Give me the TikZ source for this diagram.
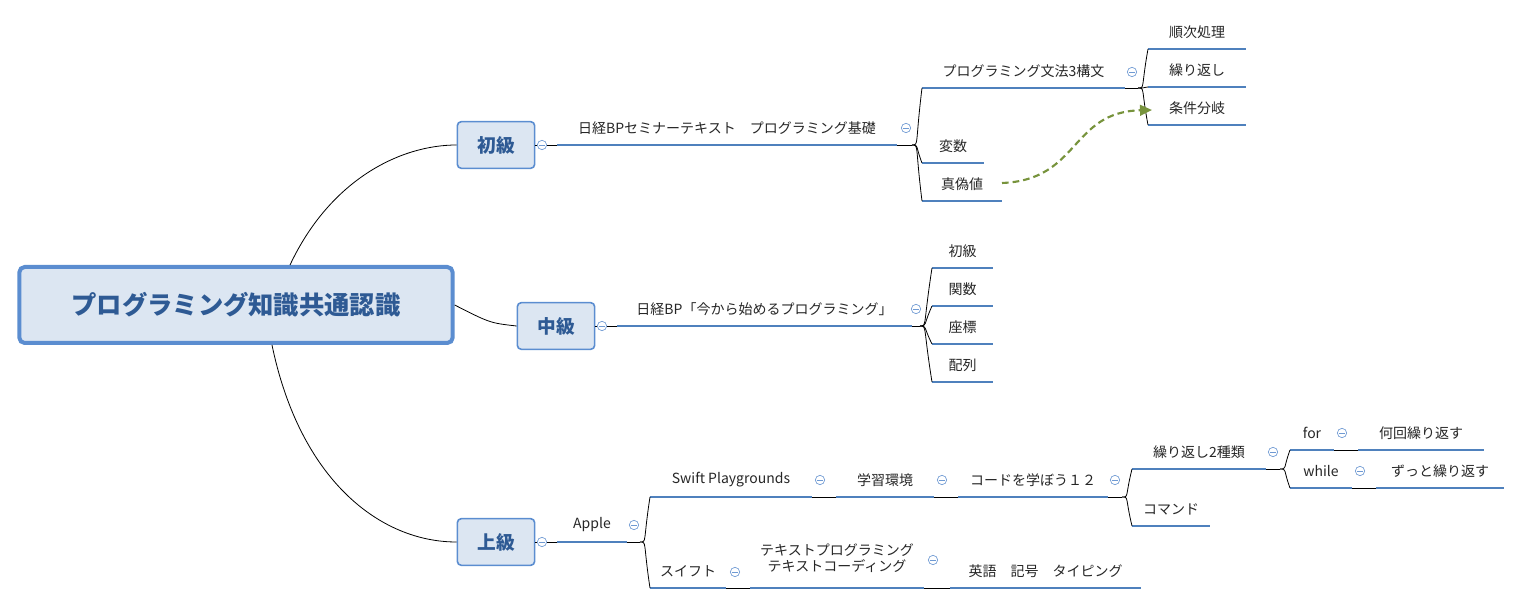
\documentclass[tikz,border=0pt]{standalone}
\usepackage{fontspec}
\setmainfont{Noto Sans CJK JP}
\usetikzlibrary{arrows.meta}
\definecolor{ub}{HTML}{4F81BD}
\definecolor{thin}{HTML}{6F9AD3}
\definecolor{fillb}{HTML}{DCE6F2}
\definecolor{rootb}{HTML}{5B8DD0}
\definecolor{roott}{HTML}{2E5A94}
\definecolor{grn}{HTML}{77933C}
\newcommand\topic[5]{%
 \coordinate (#1-l) at (#2,#4); \coordinate (#1-r) at (#3,#4);
 \draw[uline] (#1-l)--(#1-r);
 \node[lbl] (#1) at ({(#2+#3)/2},#4-17) {#5};}
\newcommand\coll[3]{\node[cl] (#1) at (#2,#3) {};}
\newcommand\fan[2]{\draw[tl] (#1) .. controls ($(#1)+(7,0)$) and ($(#1)+(3,0)$|-#2) .. (#2);}
\usetikzlibrary{calc}
\begin{document}
\begin{tikzpicture}[x=0.75pt,y=-0.75pt,
 uline/.style={ub,line width=1.6pt},
 tl/.style={thin,line width=0.6pt},
 lbl/.style={font=\fontsize{10.5}{12}\selectfont,text=black!85,inner sep=1pt,align=center},
 cl/.style={circle,draw=thin,line width=0.5pt,minimum size=7pt,inner sep=0pt,fill=white,
   path picture={\draw[thin,line width=0.5pt]([xshift=-2pt]path picture bounding box.center)--([xshift=2pt]path picture bounding box.center);}},
 lvl/.style={draw=rootb,fill=fillb,rounded corners=3pt,line width=1.2pt,minimum width=58pt,minimum height=35pt,font=\fontsize{14}{16}\bfseries\selectfont,text=roott}]
\useasboundingbox (0,0) rectangle (1522,605);
\node[draw=rootb,fill=fillb,rounded corners=4pt,line width=3pt,minimum width=325pt,minimum height=57pt,font=\fontsize{19}{22}\bfseries\selectfont,text=roott] (root) at (236,305) {プログラミング知識共通認識};
\node[lvl] (b) at (496,145) {初級};
\node[lvl] (m) at (556,326) {中級};
\node[lvl] (a) at (496,542) {上級};
\coordinate (r1) at (290,265); \coordinate (r3) at (272,345);
\draw[tl] (r1) .. controls (330,180) and (400,145) .. (b.west);
\draw[tl] (root.east) .. controls (490,323) .. (m.west);
\draw[tl] (r3) .. controls (300,480) and (380,542) .. (a.west);
% 初級
\coll{c1}{542}{145}
\topic{t1}{557}{897}{145}{日経BPセミナーテキスト　プログラミング基礎}
\draw[tl] (b.east)--(c1)--(t1-l);
\coll{c2}{906}{128}
\coordinate (p1) at (912,145); \draw[tl] (t1-r)--(p1);
\topic{s1}{922}{1125}{88}{プログラミング文法3構文}
\topic{s2}{922}{984}{163}{変数}
\topic{s3}{922}{1002}{201}{真偽値}
\fan{p1}{s1-l}\fan{p1}{s2-l}\fan{p1}{s3-l}
\coll{c3}{1132}{72}
\coordinate (p2) at (1138,88); \draw[tl] (s1-r)--(p2);
\topic{u1}{1148}{1246}{49}{順次処理}
\topic{u2}{1148}{1246}{87}{繰り返し}
\topic{u3}{1148}{1246}{125}{条件分岐}
\fan{p2}{u1-l}\fan{p2}{u2-l}\fan{p2}{u3-l}
\coordinate (g1) at (1002,183); \coordinate (g2) at (1152,110);
\draw[grn,line width=1.6pt,dash pattern=on 5pt off 3pt,-{Triangle[length=9pt,width=8pt]}] (g1) .. controls (1080,180) and (1070,112) .. (g2);
% 中級
\coll{c4}{602}{326}
\topic{t2}{617}{912}{326}{日経BP「今から始めるプログラミング」}
\draw[tl] (m.east)--(c4)--(t2-l);
\coll{c5}{916}{309}
\coordinate (p3) at (920,326); \draw[tl] (t2-r)--(p3);
\topic{v1}{932}{993}{268}{初級}
\topic{v2}{932}{993}{306}{関数}
\topic{v3}{932}{993}{344}{座標}
\topic{v4}{932}{993}{382}{配列}
\fan{p3}{v1-l}\fan{p3}{v2-l}\fan{p3}{v3-l}\fan{p3}{v4-l}
% 上級
\coll{c6}{542}{542}
\topic{t3}{557}{627}{542}{Apple}
\draw[tl] (a.east)--(c6)--(t3-l);
\coll{c7}{634}{525}
\coordinate (p4) at (640,542); \draw[tl] (t3-r)--(p4);
\topic{w1}{650}{812}{497}{Swift Playgrounds}
\topic{w2}{650}{726}{588}{スイフト}
\fan{p4}{w1-l}\fan{p4}{w2-l}
\coll{c8}{820}{480}
\topic{x1}{836}{934}{497}{学習環境}
\draw[tl] (w1-r)--(x1-l);
\coll{c9}{942}{480}
\topic{x2}{958}{1108}{497}{コードを学ぼう１２}
\draw[tl] (x1-r)--(x2-l);
\coll{c10}{1115}{480}
\coordinate (p5) at (1122,497); \draw[tl] (x2-r)--(p5);
\topic{y1}{1132}{1266}{469}{繰り返し2種類}
\topic{y2}{1132}{1210}{526}{コマンド}
\fan{p5}{y1-l}\fan{p5}{y2-l}
\coll{c11}{1273}{452}
\coordinate (p6) at (1280,469); \draw[tl] (y1-r)--(p6);
\topic{z1}{1290}{1334}{450}{for}
\topic{z2}{1290}{1352}{488}{while}
\fan{p6}{z1-l}\fan{p6}{z2-l}
\coll{c12}{1342}{433}
\topic{z3}{1358}{1484}{450}{何回繰り返す}
\draw[tl] (z1-r)--(z3-l);
\coll{c13}{1360}{471}
\topic{z4}{1376}{1504}{488}{ずっと繰り返す}
\draw[tl] (z2-r)--(z4-l);
\coll{c14}{735}{572}
\coordinate (k1) at (750,588); \coordinate (k2) at (924,588);
\draw[uline] (k1)--(k2);
\node[lbl] (k) at (837,558) {テキストプログラミング\\テキストコーディング};
\draw[tl] (w2-r)--(k1);
\coll{c15}{933}{560}
\topic{e1}{950}{1141}{588}{英語　記号　タイピング}
\draw[tl] (k2)--(e1-l);
\end{tikzpicture}
\end{document}
